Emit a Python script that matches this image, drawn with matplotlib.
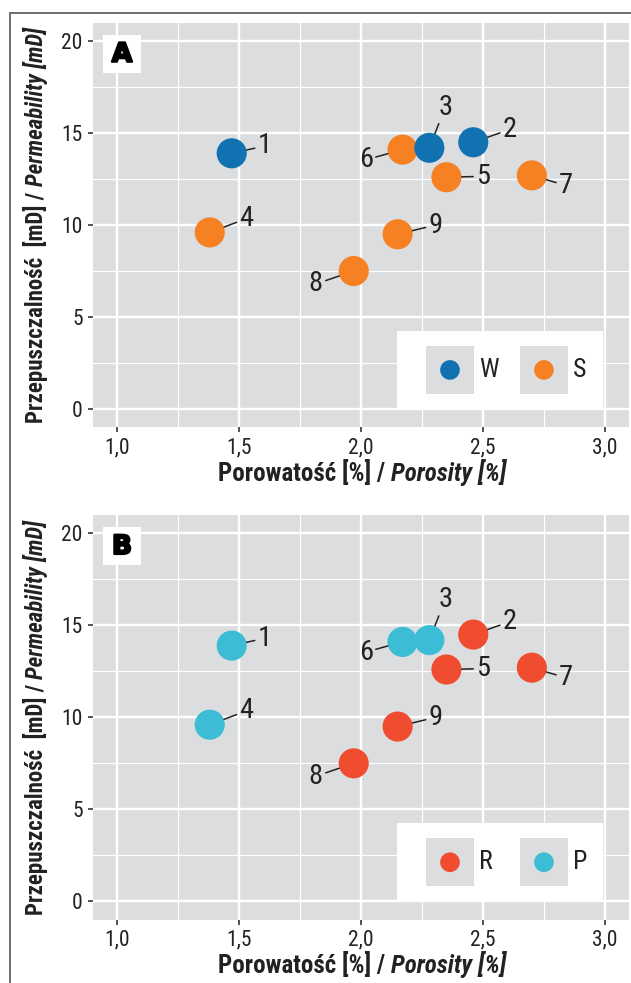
import matplotlib
matplotlib.use("Agg")
import matplotlib.pyplot as plt
import matplotlib.font_manager as fm
import matplotlib.patheffects as pe
from matplotlib.patches import Rectangle
from matplotlib.lines import Line2D
from matplotlib.ticker import MultipleLocator

# dane / data
sample_id = ["1", "2", "3", "4", "5", "6", "7", "8", "9"]
porosity = [1.47, 2.46, 2.28, 1.38, 2.35, 2.17, 2.70, 1.97, 2.15]
permeability = [13.9, 14.5, 14.2, 9.6, 12.6, 14.1, 12.7, 7.5, 9.5]

group_a = ["W", "W", "W", "S", "S", "S", "S", "S", "S"]
group_b = ["P", "R", "P", "P", "R", "P", "R", "R", "R"]

levels_a = ["W", "S"]
levels_b = ["R", "P"]
colors_a = {"W": "#1172b1", "S": "#f58123"}
colors_b = {"R": "#ef4c30", "P": "#3cbdd5"}

x_ticks = [1.0, 1.5, 2.0, 2.5, 3.0]
y_ticks = [0, 5, 10, 15, 20]

# gdzie stoja numery probek (przesuniecie od punktu, w jednostkach danych)
label_dx = [0.135, 0.15, 0.065, 0.15, 0.15, -0.15, 0.14, -0.155, 0.155]
label_dy = [0.4, 0.7, 2.2, 0.75, 0.05, -0.55, -0.55, -0.7, 0.5]

have = {f.name for f in fm.fontManager.ttflist}
FONT = "DejaVu Sans"
for cand in ["Roboto Condensed", "Liberation Sans Narrow", "Open Sans Condensed"]:
    if cand in have:
        FONT = cand
        break
plt.rcParams["font.family"] = [FONT, "DejaVu Sans"]

TXT = "#222222"
PANEL = "#dcdddf"


def fmt_comma(v):
    return ("%.1f" % v).replace(".", ",")


def draw_panel(ax, groups, levels, colors, tag):
    ax.set_facecolor(PANEL)
    for s in ax.spines.values():
        s.set_visible(False)
    ax.set_xlim(0.9, 3.1)
    ax.set_ylim(-1, 21)
    ax.set_xticks(x_ticks)
    ax.set_xticklabels([fmt_comma(v) for v in x_ticks])
    ax.set_yticks(y_ticks)
    ax.xaxis.set_minor_locator(MultipleLocator(0.25))
    ax.yaxis.set_minor_locator(MultipleLocator(2.5))
    ax.grid(which="major", color="white", lw=1.7)
    ax.grid(which="minor", color="white", lw=0.85)
    ax.set_axisbelow(True)
    ax.tick_params(which="major", direction="out", length=3.6, width=1.2,
                   color="#333333", labelsize=15.5, labelcolor=TXT, pad=3.5)
    ax.tick_params(which="minor", length=0)

    # punkty, najpierw druga grupa, zeby pierwsza byla na wierzchu
    for lev in levels[::-1]:
        xs = [porosity[i] for i in range(len(porosity)) if groups[i] == lev]
        ys = [permeability[i] for i in range(len(porosity)) if groups[i] == lev]
        ax.scatter(xs, ys, s=470, color=colors[lev], edgecolors="none", zorder=3)

    for i in range(len(sample_id)):
        ax.annotate(sample_id[i], xy=(porosity[i], permeability[i]),
                    xytext=(porosity[i] + label_dx[i], permeability[i] + label_dy[i]),
                    ha="center", va="center", fontsize=20.5, color=TXT, zorder=4,
                    arrowprops=dict(arrowstyle="-", color=TXT, lw=1.1,
                                    shrinkA=0, shrinkB=11))

    # litera panelu
    ax.add_patch(Rectangle((0.0194, 0.876), 0.0706, 0.094, transform=ax.transAxes,
                           facecolor="white", edgecolor="none", zorder=5))
    ax.text(0.0547, 0.921, tag, transform=ax.transAxes, ha="center", va="center",
            fontsize=19, fontweight="black", family=["DejaVu Sans"],
            color="black", zorder=6,
            path_effects=[pe.withStroke(linewidth=1.6, foreground="black")])

    # legenda
    ax.add_patch(Rectangle((0.567, 0.048), 0.384, 0.191, transform=ax.transAxes,
                           facecolor="white", edgecolor="none", zorder=5))
    key_x = [0.621, 0.796]
    for k, lev in enumerate(levels):
        ax.add_patch(Rectangle((key_x[k], 0.0825), 0.0895, 0.1185, transform=ax.transAxes,
                               facecolor=PANEL, edgecolor="none", zorder=6))
        ax.scatter([key_x[k] + 0.0447], [0.142], s=200, color=colors[lev],
                   edgecolors="none", transform=ax.transAxes, zorder=7, clip_on=False)
        ax.text(key_x[k] + 0.0995, 0.142, lev, transform=ax.transAxes, ha="left",
                va="center", fontsize=18.5, color=TXT, zorder=7)


def two_part(fig, x, y, a, b, size, rot):
    # pierwsza czesc prosto, druga kursywa, razem wysrodkowane w (x, y)
    t1 = fig.text(x, y, a, fontsize=size, fontweight="bold", color=TXT,
                  rotation=rot, ha="left", va="baseline", rotation_mode="anchor")
    t2 = fig.text(x, y, b, fontsize=size, fontweight="bold", style="italic", color=TXT,
                  rotation=rot, ha="left", va="baseline", rotation_mode="anchor")
    fig.canvas.draw()
    r = fig.canvas.get_renderer()
    W, H = fig.bbox.width, fig.bbox.height
    if rot == 0:
        w1 = t1.get_window_extent(r).width / W
        w2 = t2.get_window_extent(r).width / W
        x0 = x - (w1 + w2) / 2
        t1.set_position((x0, y))
        t2.set_position((x0 + w1, y))
    else:
        h1 = t1.get_window_extent(r).height / H
        h2 = t2.get_window_extent(r).height / H
        y0 = y - (h1 + h2) / 2
        t1.set_position((x, y0))
        t2.set_position((x, y0 + h1))


fig = plt.figure(figsize=(6.31, 9.83), dpi=100)
axA = fig.add_axes([0.1468, 0.5652, 0.8507, 0.4117])
axB = fig.add_axes([0.1468, 0.0644, 0.8507, 0.4117])

draw_panel(axA, group_a, levels_a, colors_a, "A")
draw_panel(axB, group_b, levels_b, colors_b, "B")

# ramka u gory i z lewej
fig.add_artist(Line2D([0.0155, 1.0], [0.9865, 0.9865], transform=fig.transFigure,
                      color="#6f6f6f", lw=1.4))
fig.add_artist(Line2D([0.0155, 0.0155], [0.0, 0.9865], transform=fig.transFigure,
                      color="#6f6f6f", lw=1.4))

cx = (0.1468 + 1.0) / 2
two_part(fig, cx, 1 - 481 / 983, "Porowatość [%] / ", "Porosity [%]", 18, 0)
two_part(fig, cx, 1 - 973 / 983, "Porowatość [%] / ", "Porosity [%]", 18, 0)
two_part(fig, 0.0675, 0.5652 + 0.4117 / 2, "Przepuszczalność  [mD] / ", "Permeability [mD]", 16.5, 90)
two_part(fig, 0.0675, 0.0644 + 0.4117 / 2, "Przepuszczalność  [mD] / ", "Permeability [mD]", 16.5, 90)

fig.savefig("out.png", dpi=100)
